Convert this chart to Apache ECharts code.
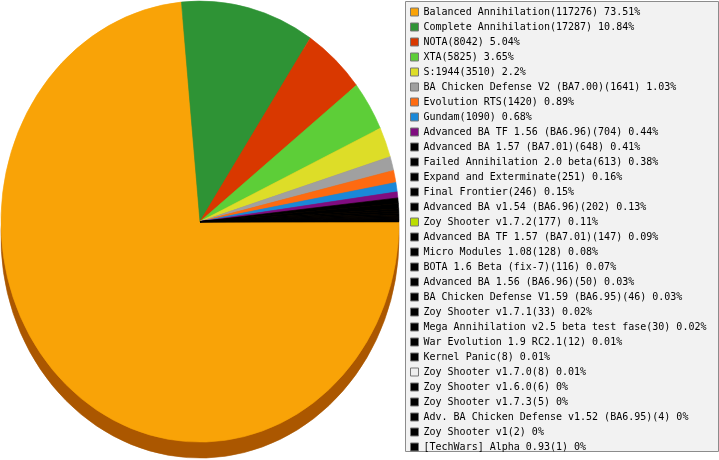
<html>
<head>
    <meta charset='utf-8'>
    <script src='https://cdn.jsdelivr.net/npm/echarts@6/dist/echarts.min.js'></script>
    <style>
        html, body {
            width: 719px;
            height: 460px;
            margin: 0;
            overflow: hidden;
            background: #fff;
        }
        #legend {
            position: absolute;
            left: 0;
            top: 0;
            width: 719px;
            height: 460px;
        }
        #pie {
            position: absolute;
            left: 0;
            top: 0;
            width: 402px;
            height: 420px;
            transform: scaleY(1.108);
            transform-origin: 0 0;
        }
    </style>
</head>
<body>
<div id='legend'></div>
<div id='pie'></div>
<script>
    var names = [
        'Balanced Annihilation', 'Complete Annihilation', 'NOTA', 'XTA', 'S:1944',
        'BA Chicken Defense V2 (BA7.00)', 'Evolution RTS', 'Gundam',
        'Advanced BA TF 1.56 (BA6.96)', 'Advanced BA 1.57 (BA7.01)',
        'Failed Annihilation 2.0 beta', 'Expand and Exterminate', 'Final Frontier',
        'Advanced BA v1.54 (BA6.96)', 'Zoy Shooter v1.7.2', 'Advanced BA TF 1.57 (BA7.01)',
        'Micro Modules 1.08', 'BOTA 1.6 Beta (fix-7)', 'Advanced BA 1.56 (BA6.96)',
        'BA Chicken Defense V1.59 (BA6.95)', 'Zoy Shooter v1.7.1',
        'Mega Annihilation v2.5 beta test fase', 'War Evolution 1.9 RC2.1', 'Kernel Panic',
        'Zoy Shooter v1.7.0', 'Zoy Shooter v1.6.0', 'Zoy Shooter v1.7.3',
        'Adv. BA Chicken Defense v1.52 (BA6.95)', 'Zoy Shooter v1', '[TechWars] Alpha 0.93'
    ];
    var values = [
        117276, 17287, 8042, 5825, 3510, 1641, 1420, 1090, 704, 648,
        613, 251, 246, 202, 177, 147, 128, 116, 50, 46,
        33, 30, 12, 8, 8, 6, 5, 4, 2, 1
    ];
    // first nine slices have their own colour, the rest are drawn black
    var sliceColors = [
        '#f9a307', '#2e9335', '#d93800', '#5dce38', '#dddd28', '#a0a0a0', '#fe6a10', '#1a88d8',
        '#800c80'
    ];
    // legend swatches that differ from the slice colour
    var legendColors = { 'Zoy Shooter v1.7.2': '#bbdd00', 'Zoy Shooter v1.7.0': '#eeeeee' };

    var total = values.reduce(function (a, b) { return a + b; }, 0);
    var data = names.map(function (n, i) {
        var c = sliceColors[i] || '#000000';
        return {
            name: n,
            value: values[i],
            itemStyle: { color: c, borderColor: c, borderWidth: 0.6 }
        };
    });
    var labelOf = {};
    names.forEach(function (n, i) {
        var pct = Math.round(values[i] / total * 10000) / 100;
        labelOf[n] = n + '(' + values[i] + ') ' + pct + '%';
    });
    var legendData = names.map(function (n, i) {
        return { name: n, itemStyle: { color: legendColors[n] || sliceColors[i] || '#000000' } };
    });

    // legend panel
    var legendChart = echarts.init(document.getElementById('legend'));
    legendChart.setOption({
        animation: false,
        graphic: [{
            type: 'rect',
            left: 405,
            top: 1,
            shape: { width: 313, height: 450 },
            style: { fill: '#f2f2f2', stroke: '#8c8c8c', lineWidth: 1 },
            z: -1
        }],
        legend: {
            orient: 'vertical',
            left: 410,
            top: 7,
            padding: 0,
            itemWidth: 8,
            itemHeight: 8,
            itemGap: 5,
            icon: 'rect',
            selectedMode: false,
            itemStyle: { borderColor: '#777', borderWidth: 1 },
            textStyle: {
                fontFamily: 'DejaVu Sans Mono',
                fontSize: 10,
                lineHeight: 10,
                color: '#000'
            },
            formatter: function (name) {
                return labelOf[name];
            },
            data: legendData
        },
        series: [{
            type: 'pie',
            center: [-500, -500],
            radius: 1,
            silent: true,
            label: { show: false },
            data: data
        }]
    });

    // pie with a darker rim underneath for the 3d look
    var pieChart = echarts.init(document.getElementById('pie'), null, { renderer: 'svg' });
    pieChart.setOption({
        animation: false,
        series: [
            {
                type: 'pie',
                center: [200, 214.4],
                radius: 199,
                startAngle: 0,
                clockwise: true,
                silent: true,
                label: { show: false },
                labelLine: { show: false },
                itemStyle: { color: '#ab5700', borderColor: '#ab5700', borderWidth: 0.6 },
                data: values
            },
            {
                type: 'pie',
                center: [200, 200],
                radius: 199,
                startAngle: 0,
                clockwise: true,
                silent: true,
                label: { show: false },
                labelLine: { show: false },
                data: data
            }
        ]
    });
</script>
</body>
</html>
